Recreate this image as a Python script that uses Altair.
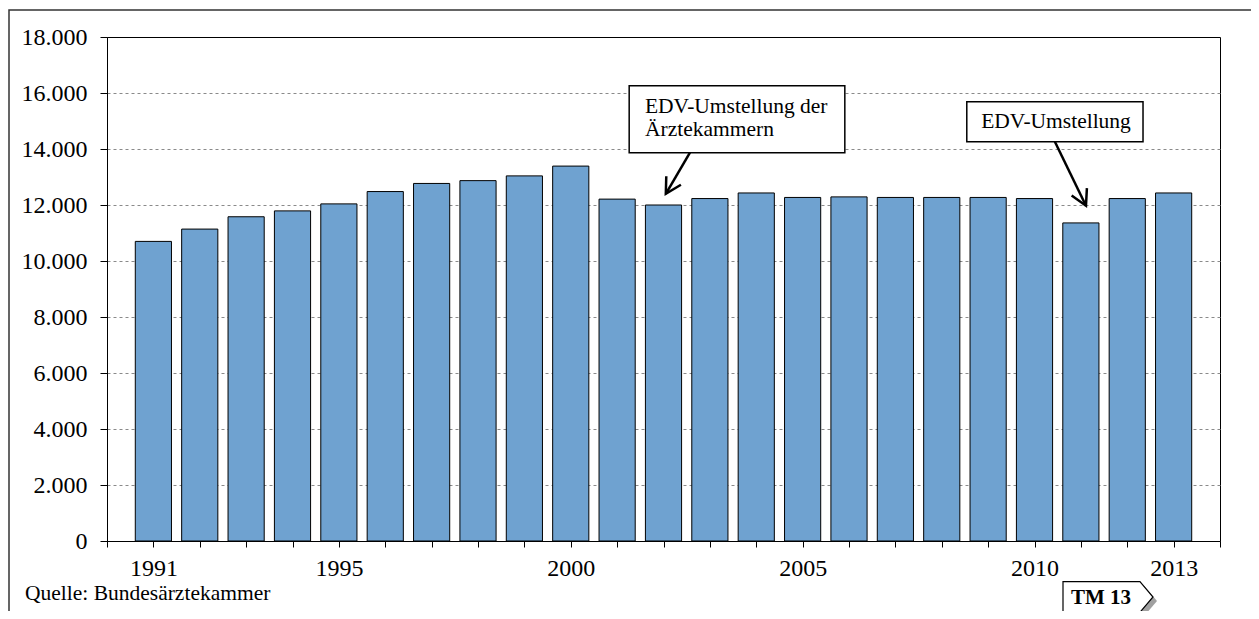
import altair as alt
import pandas as pd

# ---- data ----
years = list(range(1991, 2014))
values = [10700, 11140, 11580, 11790, 12040, 12480, 12770, 12870, 13040, 13390,
          12210, 12000, 12230, 12430, 12270, 12290, 12270, 12270, 12270, 12230,
          11360, 12230, 12430]
year_labels = [1991, 1995, 2000, 2005, 2010, 2013]
y_tick_values = list(range(0, 18001, 1000))
x_tick_values = list(range(1990, 2015))

# annotations (anchored in data coordinates)
ann_boxes = pd.DataFrame({
    "x0": [2001.26, 2008.54], "x1": [2005.91, 2012.34],
    "y0": [16260, 15690], "y1": [13870, 14260],
})
ann_text = pd.DataFrame({
    "x": [2001.60, 2001.60, 2008.85],
    "y": [15510, 14690, 14975],
    "t": ["EDV-Umstellung der", "Ärztekammern", "EDV-Umstellung"],
})
ann_arrows = pd.DataFrame({
    "x0": [2002.57, 2010.44], "y0": [13870, 14260],
    "x1": [2002.05, 2011.11], "y1": [12400, 11975],
    "angle": [30.3, 334.2],
})
source_text = ["Quelle: Bundesärztekammer"]
badge_text = ["TM 13"]

W, H = 1113, 504
FONT = "Liberation Serif"
BAR_COLOR = "#6FA2D0"

xscale = alt.Scale(domain=[1990, 2014], nice=False, zero=False)
yscale = alt.Scale(domain=[0, 18000], nice=False)

df = pd.DataFrame({"year": years, "value": values})
df["x0"] = df["year"] - 0.39
df["x1"] = df["year"] + 0.39
df["base"] = 0

label_list = ",".join(str(v) for v in year_labels)

xaxis = alt.Axis(values=x_tick_values, format="d",
                 labelExpr=f"indexof([{label_list}], datum.value) >= 0 ? datum.label : ''",
                 grid=False, domainColor="black", tickColor="black", tickSize=6,
                 labelFont=FONT, labelFontSize=24, labelColor="black",
                 labelPadding=9, labelOverlap=False, labelFlush=False)
yaxis = alt.Axis(values=y_tick_values,
                 labelExpr="datum.value % 2000 === 0 ? replace(format(datum.value, ','), ',', '.') : ''",
                 grid=True, gridDash=[3, 3], gridColor="#8a8a8a", gridWidth=1,
                 gridOpacity=alt.condition("datum.value % 2000 === 0 && datum.value > 0 && datum.value < 18000",
                                           alt.value(1), alt.value(0)),
                 domainColor="black", tickColor="black", tickSize=7,
                 labelFont=FONT, labelFontSize=24, labelColor="black",
                 labelPadding=13, labelOverlap=False)

bars = alt.Chart(df).mark_bar(color=BAR_COLOR, stroke="black", strokeWidth=1).encode(
    x=alt.X("x0:Q", scale=xscale, title=None, axis=xaxis),
    x2="x1:Q",
    y=alt.Y("value:Q", scale=yscale, title=None, axis=yaxis),
    y2="base:Q",
)

boxes = alt.Chart(ann_boxes).mark_rect(fill="white", stroke="black", strokeWidth=1.5).encode(
    x=alt.X("x0:Q", scale=xscale, title=None), x2="x1:Q",
    y=alt.Y("y0:Q", scale=yscale, title=None), y2="y1:Q",
)

texts = alt.Chart(ann_text).mark_text(font=FONT, fontSize=21.5, align="left",
                                      baseline="middle", color="black").encode(
    x=alt.X("x:Q", scale=xscale, title=None),
    y=alt.Y("y:Q", scale=yscale, title=None),
    text="t:N",
)

shafts = alt.Chart(ann_arrows).mark_rule(color="black", strokeWidth=2.5).encode(
    x=alt.X("x0:Q", scale=xscale, title=None), x2="x1:Q",
    y=alt.Y("y0:Q", scale=yscale, title=None), y2="y1:Q",
)

heads = alt.Chart(ann_arrows).mark_point(
    shape="M -0.55 -1 L 0 0 L 0.55 -1", filled=False, stroke="black",
    strokeWidth=2.5, size=950, opacity=1).encode(
    x=alt.X("x1:Q", scale=xscale, title=None),
    y=alt.Y("y1:Q", scale=yscale, title=None),
    angle=alt.Angle("angle:Q", scale=None),
)

one = pd.DataFrame({"t": source_text})
source = alt.Chart(one).mark_text(font=FONT, fontSize=21.5, align="left",
                                  baseline="alphabetic", color="black").encode(
    x=alt.value(-82), y=alt.value(563), text="t:N")

frame = alt.Chart(one).mark_rect(fill=None, stroke="#333333", strokeWidth=1.5).encode(
    x=alt.value(-98), x2=alt.value(1300), y=alt.value(-27), y2=alt.value(700))

badge_df = pd.DataFrame({"t": badge_text})
PENT = "M -1 -0.34 L 0.71 -0.34 L 1 0 L 0.71 0.34 L -1 0.34 Z"
badge_shadow = alt.Chart(badge_df).mark_point(
    shape=PENT, filled=True, fill="#777777", stroke=None, size=8100, opacity=0.7).encode(
    x=alt.value(1005), y=alt.value(564))
badge = alt.Chart(badge_df).mark_point(
    shape=PENT, filled=True, fill="white", stroke="black", strokeWidth=1.2,
    size=8100, opacity=1).encode(x=alt.value(1001), y=alt.value(560))
badge_txt = alt.Chart(badge_df).mark_text(font=FONT, fontSize=21, fontWeight="bold",
                                          align="center", baseline="middle",
                                          color="black").encode(
    x=alt.value(994), y=alt.value(561), text="t:N")

chart = alt.layer(frame, bars, boxes, shafts, heads, texts, source,
                  badge_shadow, badge, badge_txt).properties(
    width=W, height=H,
    autosize=alt.AutoSizeParams(type="none"),
    padding={"left": 99, "top": 29, "right": 31, "bottom": 70},
    background="white",
).configure_view(stroke="black", strokeWidth=1)

chart.save("out.html", embed_options={"renderer": "svg", "actions": False})
